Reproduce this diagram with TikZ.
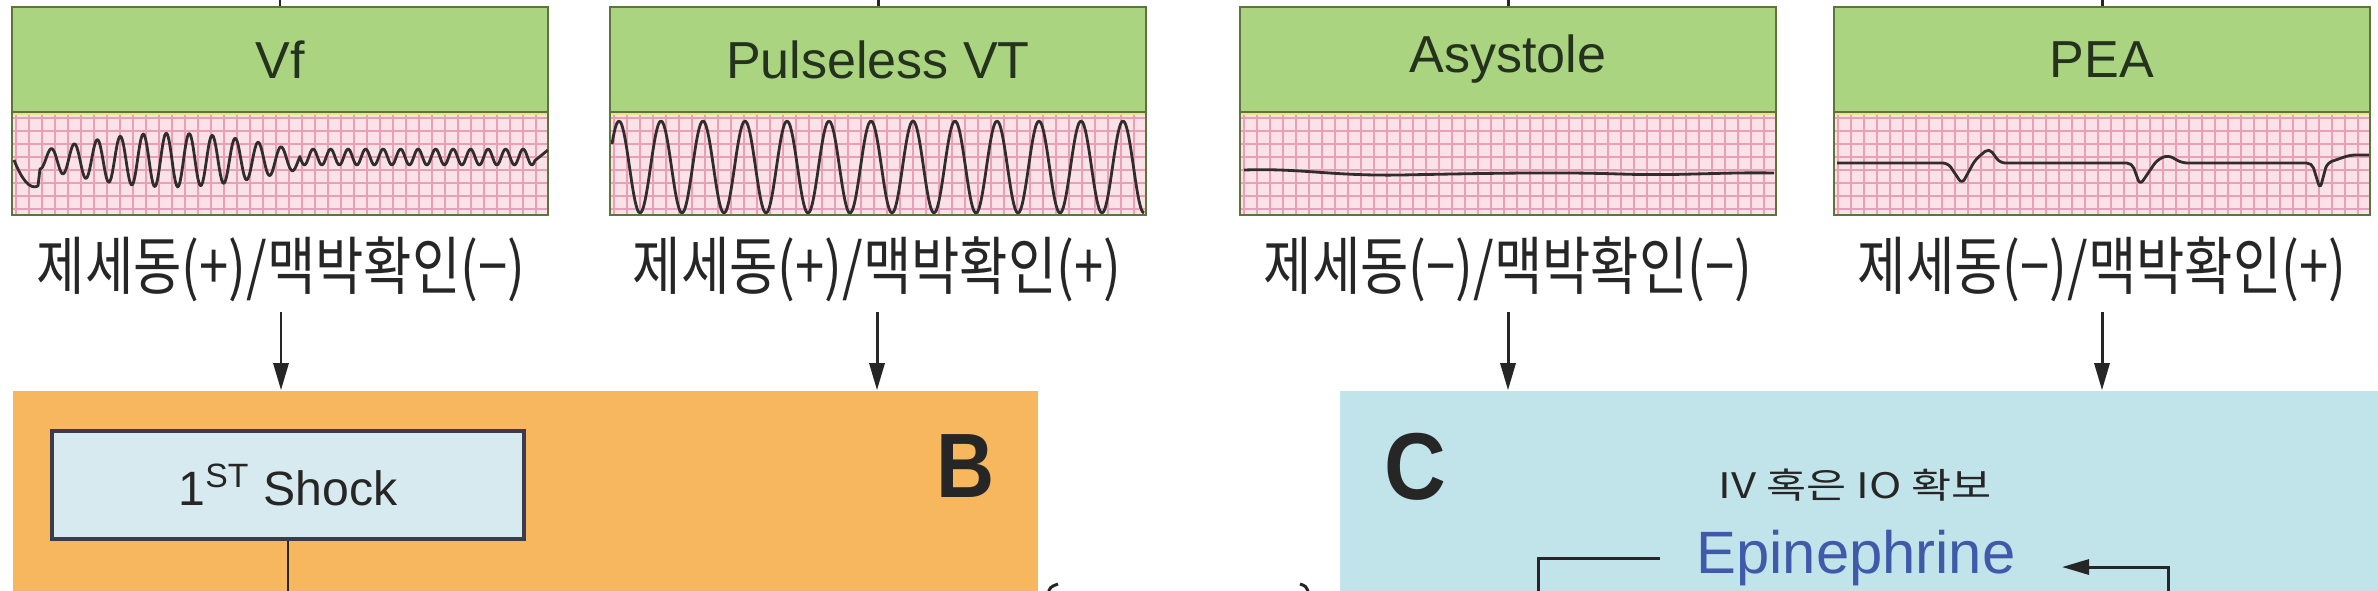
\documentclass[tikz,border=0pt]{standalone}
\usepackage{fontspec}
\setmainfont{Liberation Sans}
\newfontfamily\kr{Noto Sans CJK KR}
\usetikzlibrary{arrows.meta}
\definecolor{grn}{RGB}{170,212,128}
\definecolor{grnb}{RGB}{95,115,60}
\definecolor{pinkbg}{RGB}{251,226,232}
\definecolor{pinkln}{RGB}{234,160,180}
\definecolor{yel}{RGB}{232,232,130}
\definecolor{orng}{RGB}{246,183,94}
\definecolor{cblue}{RGB}{193,227,234}
\definecolor{shockfill}{RGB}{215,234,240}
\definecolor{shockbd}{RGB}{62,58,78}
\definecolor{epiblue}{RGB}{64,90,170}
\definecolor{ink}{RGB}{38,38,38}
\definecolor{titleink}{RGB}{36,50,30}
\definecolor{wavec}{RGB}{50,45,45}
\begin{document}
\begin{tikzpicture}[x=0.01cm,y=-0.01cm,
  title/.style={fill=grn, draw=grnb, line width=0.6pt, minimum width=5.36cm, minimum height=1.05cm, inner sep=0pt, font=\fontsize{14.8}{16}\selectfont, text=titleink},
  wavearea/.style={draw=grnb, line width=0.6pt, minimum width=5.36cm, minimum height=1.03cm, inner sep=0pt},
  lbl/.style={inner sep=0pt, text height=0.55cm, text depth=0.1cm, font=\kr\fontsize{18}{20}\selectfont, text=ink},
  arr/.style={draw=ink, line width=0.85pt, -{Triangle[length=0.27cm,width=0.15cm]}},
  wave/.style={draw=wavec, line width=0.8pt, line join=round},
  plain/.style={draw=ink, line width=0.85pt},
  panel/.style={inner sep=0pt, minimum height=2.2cm},
  shockbox/.style={draw=shockbd, fill=shockfill, line width=1.1pt, minimum width=4.72cm, minimum height=1.08cm, inner sep=0pt, font=\fontsize{13.7}{15}\selectfont, text=ink},
  bigletter/.style={font=\bfseries\fontsize{26}{26}\selectfont, text=ink, inner sep=0pt}
  ]
\useasboundingbox (0,0) rectangle (2378,590);
\clip (0,0) rectangle (2378,590);
\fill[white] (0,0) rectangle (2378,590);

% rhythm boxes
\foreach \cx/\nm/\ttl in {280/1/Vf, 878/2/Pulseless VT, 1508/3/Asystole, 2102/4/PEA} {
  \begin{scope}
    \clip (\cx-268,112) rectangle (\cx+268,215);
    \fill[pinkbg] (\cx-268,112) rectangle (\cx+268,215);
    \foreach \i in {0,...,41}
      \draw[pinkln, line width=0.6pt] ({\cx-268+\i*13+4},112) -- ++(0,103);
    \foreach \j in {0,...,8}
      \draw[pinkln, line width=0.6pt] (\cx-268,{112+\j*13+6}) -- ++(536,0);
    \draw[yel, line width=0.8pt] (\cx-268,114) -- ++(536,0);
  \end{scope}
  \node[title] (t\nm) at (\cx,59.5) {\ttl};
  \node[wavearea] (w\nm) at (\cx,163.5) {};
  \draw[plain] (t\nm.north) -- ++(0,-10);
}

% waveforms
\begin{scope}
  \clip (12,112) rectangle (548,215);
  \draw[wave] (14,160) .. controls (22,180) and (30,190) .. (38,186)
     -- plot[domain=40:300, samples=220] (\x, {160 + (9+18*sin(0.69*(\x-40)))*sin(15.652*(\x-34))})
     -- plot[domain=300:535, samples=180] (\x, {157+8*sin(20.571*(\x-300))}) -- (548,150);
\end{scope}
\begin{scope}
  \clip (610,112) rectangle (1146,215);
  \draw[wave] plot[domain=612:1144, samples=320, smooth] (\x, {167-46*cos(8.5714*(\x-661))});
\end{scope}
\draw[wave] (1244,170) .. controls (1300,168) and (1330,176) .. (1400,175)
   .. controls (1500,173) and (1560,172) .. (1620,174)
   .. controls (1680,176) and (1720,172) .. (1774,173);
\draw[wave, rounded corners=1.5pt] (1837,163) -- (1948,163) -- (1962,184) -- (1975,160) -- (1989,148) -- (2000,163)
   -- (2132,163) -- (2140,185) -- (2157,160) -- (2168,155) -- (2182,163)
   -- (2312,163) -- (2320,189) -- (2327,163) -- (2350,155) -- (2369,155);

% labels
\node[lbl] (l1) at (281,267) {\scalebox{0.83}[1]{제세동(+)/맥박확인(−)}};
\node[lbl] (l2) at (877,267) {\scalebox{0.83}[1]{제세동(+)/맥박확인(+)}};
\node[lbl] (l3) at (1508,267) {\scalebox{0.83}[1]{제세동(−)/맥박확인(−)}};
\node[lbl] (l4) at (2102,267) {\scalebox{0.83}[1]{제세동(−)/맥박확인(+)}};

% panels
\node[panel, fill=orng, minimum width=10.25cm] (B) at (525.5,501) {};
\node[panel, fill=cblue, minimum width=10.4cm] (C) at (1860,501) {};

\draw[arr] ([yshift=-0.12cm]l1.south) -- (l1.south |- B.north);
\draw[arr] ([yshift=-0.12cm]l2.south) -- (l2.south |- B.north);
\draw[arr] ([yshift=-0.12cm]l3.south) -- (l3.south |- C.north);
\draw[arr] ([yshift=-0.12cm]l4.south) -- (l4.south |- C.north);

% panel B
\node[shockbox] (shock) at (288,485) {1\textsuperscript{ST} Shock};
\coordinate (shockend) at (288,600);
\draw[plain] (shock.south) -- (shockend);
\node[bigletter] (Blet) at (966,466) {\scalebox{0.88}[1]{B}};

% panel C
\node[bigletter, font=\bfseries\fontsize{27}{27}\selectfont] (Clet) at (1415,467) {\scalebox{0.9}[1]{C}};
\node[inner sep=0pt, font=\kr\fontsize{10}{11}\selectfont, text=ink] (iv) at (1855,485) {\scalebox{1.24}[1]{IV 혹은 IO 확보}};
\node[inner sep=0pt, anchor=base, font=\fontsize{17}{18}\selectfont, text=epiblue] (epi) at (1856,573) {Epinephrine};
\coordinate (brkL0) at (1660,558);
\coordinate (brkL1) at (1538,600);
\draw[plain] (brkL0) -| (brkL1);
\coordinate (brkR0) at (2168,600);
\coordinate (brkR1) at (2062,567);
\draw[arr] (brkR0) |- (brkR1);

% cut-off fragments at the bottom edge
\draw[plain] (1048,594) .. controls (1050,587) .. (1058,584);
\draw[plain] (1300,584) .. controls (1306,586) .. (1309,594);
\end{tikzpicture}
\end{document}
